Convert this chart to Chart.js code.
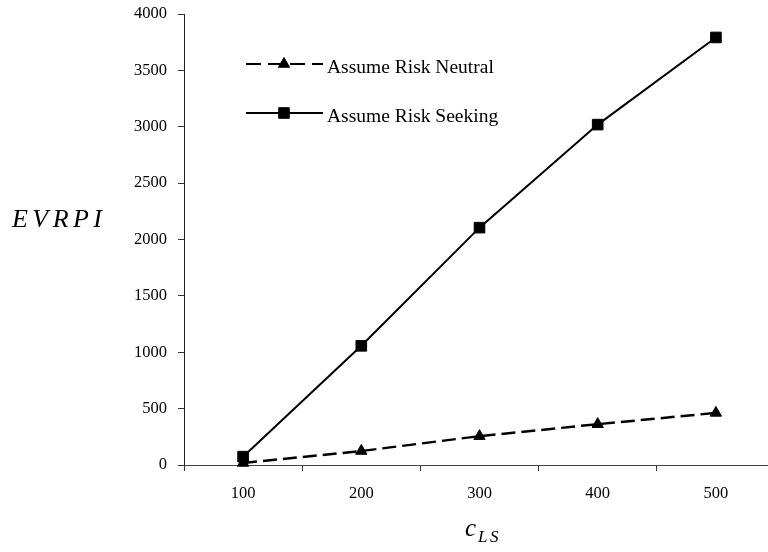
<!DOCTYPE html>
<html>
<head>
<meta charset="utf-8">
<script src="https://cdn.jsdelivr.net/npm/chart.js@4/dist/chart.umd.min.js"></script>
<style>
  html, body { margin: 0; padding: 0; background: #fff; overflow: hidden; }
  #wrap { width: 800px; height: 552px; }
</style>
</head>
<body>
<div id="wrap"><canvas id="chart" width="800" height="552"></canvas></div>
<script>
const costLabels = ['100', '200', '300', '400', '500'];
const riskNeutral = [18, 124, 256, 362, 462];
const riskSeeking = [74, 1057, 2105, 3019, 3792];
const yTicks = { min: 0, max: 4000, step: 500 };

const serif = "'Liberation Serif', 'Times New Roman', serif";

// legend drawn inside the plot: line sample with marker, then the label
const lineLegend = {
  id: 'lineLegend',
  afterDraw(chart) {
    const ctx = chart.ctx;
    const rows = [
      { ds: chart.data.datasets[0], y: 64 },
      { ds: chart.data.datasets[1], y: 113 }
    ];
    ctx.save();
    rows.forEach(({ ds, y }) => {
      ctx.strokeStyle = ds.borderColor;
      ctx.lineWidth = 2;
      ctx.setLineDash(ds.borderDash ? [15, 7] : []);
      ctx.beginPath();
      ctx.moveTo(246, y);
      ctx.lineTo(323, y);
      ctx.stroke();
      ctx.setLineDash([]);
      ctx.fillStyle = ds.pointBackgroundColor;
      ctx.strokeStyle = ds.pointBorderColor;
      ctx.lineWidth = 1;
      Chart.helpers.drawPoint(ctx, {
        pointStyle: ds.pointStyle, radius: ds.pointRadius, rotation: 0, borderWidth: 1
      }, 284, y);
      ctx.fillStyle = '#000';
      ctx.font = '19.5px ' + serif;
      ctx.textAlign = 'left';
      ctx.textBaseline = 'alphabetic';
      ctx.fillText(ds.label, 327, y + 8.5);
    });
    ctx.restore();
  }
};

// math-style axis titles: EVRPI on the left, c with subscript LS below
const axisTitles = {
  id: 'axisTitles',
  afterDraw(chart) {
    const ctx = chart.ctx;
    ctx.save();
    ctx.fillStyle = '#000';
    ctx.textBaseline = 'alphabetic';
    ctx.textAlign = 'left';

    ctx.font = 'italic 26px ' + serif;
    const letters = 'EVRPI'.split('');
    const widths = letters.map(ch => ctx.measureText(ch).width);
    const total = widths.reduce((a, b) => a + b, 0);
    const gap = (90 - total) / (letters.length - 1);
    let x = 12;
    letters.forEach((ch, i) => {
      ctx.fillText(ch, x, 227);
      x += widths[i] + gap;
    });

    ctx.font = 'italic 25px ' + serif;
    ctx.fillText('c', 465, 536);
    ctx.font = 'italic 17px ' + serif;
    ctx.fillText('L', 478, 542);
    ctx.fillText('S', 490, 542);
    ctx.restore();
  }
};

new Chart(document.getElementById('chart'), {
  type: 'line',
  data: {
    labels: costLabels,
    datasets: [
      {
        label: 'Assume Risk Neutral',
        data: riskNeutral,
        borderColor: '#000',
        borderWidth: 2.5,
        borderDash: [14, 6],
        pointStyle: 'triangle',
        pointRadius: 6.5,
        pointBackgroundColor: '#000',
        pointBorderColor: '#000',
        pointBorderWidth: 1,
        tension: 0,
        fill: false,
        clip: false
      },
      {
        label: 'Assume Risk Seeking',
        data: riskSeeking,
        borderColor: '#000',
        borderWidth: 2,
        pointStyle: 'rect',
        pointRadius: 7.5,
        pointBackgroundColor: '#000',
        pointBorderColor: '#000',
        pointBorderWidth: 1,
        tension: 0,
        fill: false,
        clip: false
      }
    ]
  },
  options: {
    responsive: false,
    animation: false,
    layout: { padding: { left: 0, right: 25, top: 14, bottom: 0 } },
    plugins: {
      legend: { display: false },
      tooltip: { enabled: false }
    },
    scales: {
      x: {
        offset: true,
        grid: {
          offset: true,
          drawOnChartArea: false,
          drawTicks: true,
          tickLength: 6,
          color: '#333'
        },
        border: { display: true, color: '#444', width: 1 },
        ticks: {
          color: '#000',
          padding: 13,
          font: { family: serif, size: 16.5 },
          maxRotation: 0
        },
        afterFit: s => { s.height = 87; }
      },
      y: {
        min: yTicks.min,
        max: yTicks.max,
        grid: {
          drawOnChartArea: false,
          drawTicks: true,
          tickLength: 6,
          color: '#333'
        },
        border: { display: true, color: '#222', width: 1 },
        ticks: {
          stepSize: yTicks.step,
          color: '#000',
          padding: 11,
          font: { family: serif, size: 16.5 },
          callback: v => String(v)
        },
        afterFit: s => {
          s.width = 184;
          s.paddingTop = 0;
          s.paddingBottom = 0;
        }
      }
    }
  },
  plugins: [lineLegend, axisTitles]
});
</script>
</body>
</html>
